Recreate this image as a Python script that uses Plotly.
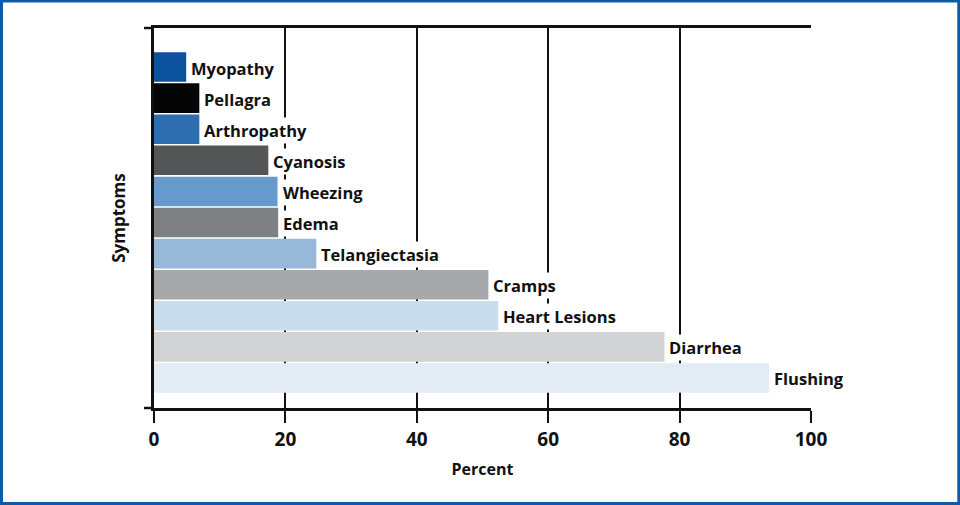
import plotly.graph_objects as go

symptoms = ["Myopathy", "Pellagra", "Arthropathy", "Cyanosis", "Wheezing", "Edema",
            "Telangiectasia", "Cramps", "Heart Lesions", "Diarrhea", "Flushing"]
percent = [4.9, 6.9, 6.9, 17.4, 18.8, 18.9, 24.7, 50.9, 52.4, 77.7, 93.6]
colors = ["#0b519c", "#050505", "#2e6eae", "#545557", "#6699cc", "#7f8082",
          "#97b8d8", "#a7a8ab", "#cadded", "#d2d3d5", "#e3ebf4"]
x_ticks = [0, 20, 40, 60, 80, 100]

FONT = "Open Sans"

fig = go.Figure()
fig.add_trace(go.Bar(
    x=percent, y=symptoms, orientation="h",
    marker=dict(color=colors, line=dict(width=0)),
    hoverinfo="x+y",
))

for s, v in zip(symptoms, percent):
    fig.add_annotation(
        x=v, y=s, xref="x", yref="y", text=s, showarrow=False,
        xanchor="left", yanchor="middle", xshift=3, yshift=-1,
        bgcolor="white", borderpad=1,
        font=dict(family=FONT, size=16.5, color="#111111", weight="bold"),
    )

# plot area pixel geometry
L, R, T, B = 154, 149, 28, 97
W, H = 960 - L - R, 505 - T - B

fig.update_layout(
    width=960, height=505,
    margin=dict(l=L, r=R, t=T, b=B, pad=0),
    paper_bgcolor="white", plot_bgcolor="white",
    showlegend=False,
    bargap=0.05,
    xaxis=dict(
        range=[0, 100], tickmode="array", tickvals=x_ticks,
        showgrid=True, gridcolor="#111111", gridwidth=2,
        zeroline=False, showline=True, linecolor="#111111", linewidth=2.5,
        mirror=True, ticks="outside", ticklen=12, tickwidth=2, tickcolor="#111111",
        tickfont=dict(family=FONT, size=19, color="#111111", weight="bold"),
        title=dict(text="Percent", standoff=14,
                   font=dict(family=FONT, size=16, color="#111111", weight="bold")),
        fixedrange=True,
    ),
    yaxis=dict(
        type="category", categoryorder="array", categoryarray=symptoms,
        range=[10.965, -1.255],
        showticklabels=False, ticks="", showgrid=False, zeroline=False,
        showline=True, linecolor="#111111", linewidth=2.5,
        title=dict(text="Symptoms", standoff=22,
                   font=dict(family=FONT, size=17, color="#111111", weight="bold")),
        fixedrange=True,
    ),
)

# small outside ticks at the ends of the y axis
for yp in (0, 1):
    fig.add_shape(type="line", xref="paper", yref="paper",
                  x0=-10 / W, x1=0, y0=yp, y1=yp,
                  line=dict(color="#111111", width=2.5))

# blue frame around the figure
fig.add_shape(type="rect", xref="paper", yref="paper",
              x0=(1.5 - L) / W, x1=(958.8 - L) / W,
              y0=(T + H - 503.5) / H, y1=(T + H - 1.0) / H,
              line=dict(color="#0d5aa7", width=3), fillcolor="rgba(0,0,0,0)",
              layer="above")

fig.write_html(
    "out.html",
    config={"displayModeBar": False},
    post_script="document.body.style.margin='0';document.body.style.padding='0';",
)
